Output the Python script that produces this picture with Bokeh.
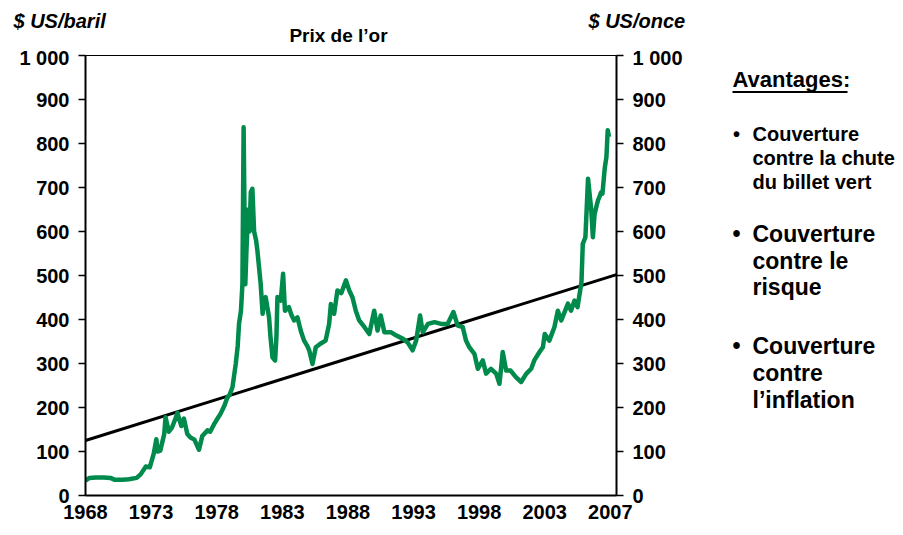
from bokeh.plotting import figure
from bokeh.models import LinearAxis, FixedTicker, Range1d
from bokeh.layouts import column, row
from bokeh.core.properties import value
from bokeh.embed import file_html
from bokeh.resources import INLINE

# ---- data ----
years = [1968.0, 1968.3, 1968.8, 1969.4, 1969.9, 1970.2, 1970.8, 1971.3, 1971.9,
         1972.2, 1972.6, 1972.9, 1973.2, 1973.4, 1973.5, 1973.7, 1974.0, 1974.1,
         1974.35, 1974.6, 1974.9, 1975.0, 1975.3, 1975.5, 1975.76, 1976.0, 1976.3,
         1976.65, 1976.9, 1977.3, 1977.5, 1977.8, 1978.0, 1978.3, 1978.6, 1978.8,
         1979.0, 1979.2, 1979.45, 1979.6, 1979.7, 1979.85, 1979.96, 1980.05, 1980.12,
         1980.18, 1980.27, 1980.4, 1980.5, 1980.6, 1980.72, 1980.85, 1981.0, 1981.1,
         1981.35, 1981.5, 1981.6, 1981.73, 1981.99, 1982.1, 1982.25, 1982.45, 1982.55,
         1982.63, 1982.88, 1983.06, 1983.2, 1983.5, 1983.7, 1983.9, 1984.15, 1984.4,
         1984.66, 1984.9, 1985.05, 1985.3, 1985.55, 1985.9, 1986.3, 1986.57, 1986.7,
         1986.95, 1987.2, 1987.5, 1987.85, 1988.1, 1988.35, 1988.6, 1988.86, 1989.25,
         1989.63, 1990.0, 1990.26, 1990.5, 1990.78, 1991.3, 1991.66, 1992.2, 1992.55,
         1992.93, 1993.2, 1993.5, 1993.7, 1994.1, 1994.6, 1995.1, 1995.6, 1996.04,
         1996.37, 1996.75, 1997.0, 1997.25, 1997.64, 1997.9, 1998.28, 1998.53, 1998.9,
         1999.3, 1999.55, 1999.8, 2000.06, 2000.4, 2000.8, 2001.2, 2001.6, 2001.97,
         2002.2, 2002.6, 2002.86, 2003.0, 2003.35, 2003.74, 2004.0, 2004.26, 2004.77,
         2005.0, 2005.27, 2005.5, 2005.8, 2005.9, 2006.1, 2006.3, 2006.55, 2006.67,
         2006.8, 2007.05, 2007.3, 2007.4, 2007.57, 2007.7, 2007.8, 2007.9]
gold = [34, 40, 41, 41, 40, 36, 36, 37, 40,
        48, 66, 64, 95, 128, 100, 102, 140, 178,
        145, 155, 178, 188, 158, 175, 140, 132, 127,
        104, 135, 148, 145, 162, 172, 186, 205, 222,
        230, 246, 299, 340, 390, 420, 481, 837, 640,
        480, 560, 650, 600, 690, 697, 600, 580, 557,
        481, 413, 440, 451, 405, 360, 314, 307, 360,
        451, 443, 504, 420, 428, 410, 398, 405, 375,
        352, 340, 330, 299, 337, 345, 352, 390, 435,
        413, 466, 460, 489, 466, 450, 420, 398, 383,
        367, 420, 375, 409, 371, 371, 364, 356, 348,
        330, 352, 409, 371, 390, 394, 390, 390, 417,
        386, 383, 352, 337, 322, 288, 307, 277, 288,
        277, 254, 326, 284, 284, 269, 258, 277, 288,
        307, 326, 337, 367, 352, 383, 420, 398, 436,
        420, 443, 428, 485, 572, 587, 720, 648, 587,
        640, 670, 689, 686, 743, 769, 830, 815]
trend_years = [1968.0, 2008.47]
trend_values = [125, 502]
y_ticks = [0, 100, 200, 300, 400, 500, 600, 700, 800, 900, 1000]
x_ticks = [1968, 1973, 1978, 1983, 1988, 1993, 1998, 2003, 2008]
x_tick_labels = ["1968", "1973", "1978", "1983", "1988", "1993", "1998", "2003", "2007"]

title = "Prix de l\u2019or"
left_unit = "$ US/baril"
right_unit = "$ US/once"
adv_title = "Avantages:"
bullets = [["Couverture", "contre la chute", "du billet vert"],
           ["Couverture", "contre le", "risque"],
           ["Couverture", "contre", "l\u2019inflation"]]

# ---- layout constants (page pixels) ----
FONT = "Liberation Sans"
GREEN = "#008A4B"
TOTAL_W = 895
STRIP_H = 46
MAIN_W, MAIN_H = 700, 481
SIDE_W = TOTAL_W - MAIN_W
PAGE_FL, PAGE_FR, PAGE_FT, PAGE_FB = 85, 616, 55, 495
BORDER_TOP = PAGE_FT - STRIP_H
BORDER_BOTTOM = MAIN_H - (PAGE_FB - STRIP_H)


def txt(f, x, y, s, size, style="bold", align="left"):
    f.text(x=[x], y=[y], text=[s], text_font=value(FONT), text_font_style=style,
           text_font_size=size, text_color="black", text_align=align,
           text_baseline="middle")


def blank(width, height, x_range, y_range, top=0, bottom=0):
    f = figure(width=width, height=height, output_backend="svg", toolbar_location=None,
               x_range=x_range, y_range=y_range,
               x_axis_location=None, y_axis_location=None,
               min_border_left=0, min_border_right=0,
               min_border_top=top, min_border_bottom=bottom)
    f.grid.visible = False
    f.outline_line_color = None
    f.background_fill_color = "white"
    f.border_fill_color = "white"
    return f


# ---- top strip: units and title (page coordinates) ----
top = blank(TOTAL_W, STRIP_H, Range1d(0, TOTAL_W), Range1d(STRIP_H, 0))
txt(top, 13, 20, left_unit, "20px", style="bold italic")
txt(top, 588, 20, right_unit, "20px", style="bold italic")
txt(top, 338, 34.5, title, "19px", align="center")

# ---- main chart ----
p = figure(width=MAIN_W, height=MAIN_H, output_backend="svg", toolbar_location=None,
           x_range=Range1d(1968.0, 2008.47), y_range=Range1d(0, 1000),
           min_border_left=PAGE_FL, min_border_right=MAIN_W - PAGE_FR,
           min_border_top=BORDER_TOP, min_border_bottom=BORDER_BOTTOM)
p.grid.visible = False
p.outline_line_color = "black"
p.outline_line_width = 1
p.background_fill_color = "white"
p.border_fill_color = "white"


def style_y(ax):
    ax.ticker = FixedTicker(ticks=y_ticks)
    ax.major_label_overrides = {1000: "1 000"}
    ax.axis_line_width = 2
    ax.axis_line_color = "black"
    ax.major_tick_in = 0
    ax.major_tick_out = 7
    ax.major_tick_line_width = 1.5
    ax.minor_tick_line_color = None
    ax.major_label_text_font = FONT
    ax.major_label_text_font_style = "bold"
    ax.major_label_text_font_size = "20px"
    ax.major_label_text_color = "black"
    ax.major_label_standoff = 9


style_y(p.yaxis[0])
ry = LinearAxis()
style_y(ry)
p.add_layout(ry, "right")

xa = p.xaxis[0]
xa.ticker = FixedTicker(ticks=x_ticks)
xa.major_label_overrides = {t: l for t, l in zip(x_ticks, x_tick_labels)}
xa.axis_line_width = 2
xa.axis_line_color = "black"
xa.major_tick_in = 0
xa.major_tick_out = 0
xa.minor_tick_line_color = None
xa.major_label_text_font = FONT
xa.major_label_text_font_style = "bold"
xa.major_label_text_font_size = "20px"
xa.major_label_text_color = "black"
xa.major_label_standoff = 9

p.line(trend_years, trend_values, line_color="black", line_width=3)
p.line(years, gold, line_color=GREEN, line_width=4.5, line_join="round")

# ---- side panel: advantages (frame aligned with main frame, page coordinates) ----
side = blank(SIDE_W, MAIN_H, Range1d(MAIN_W, TOTAL_W), Range1d(PAGE_FB, PAGE_FT),
             top=BORDER_TOP, bottom=BORDER_BOTTOM)

txt(side, 732, 79, adv_title, "22px")
side.line([732, 847], [91.5, 91.5], line_color="black", line_width=2)

block_specs = [("20px", [133, 157, 181]), ("23px", [233, 260, 286]), ("23px", [345, 372, 399])]
for lines, (size, ys) in zip(bullets, block_specs):
    txt(side, 736, ys[0], "\u2022", size, align="center")
    for t, yy in zip(lines, ys):
        txt(side, 752, yy, t, size)

layout = column(top, row(p, side))
open("out.html", "w").write(file_html(layout, INLINE))
